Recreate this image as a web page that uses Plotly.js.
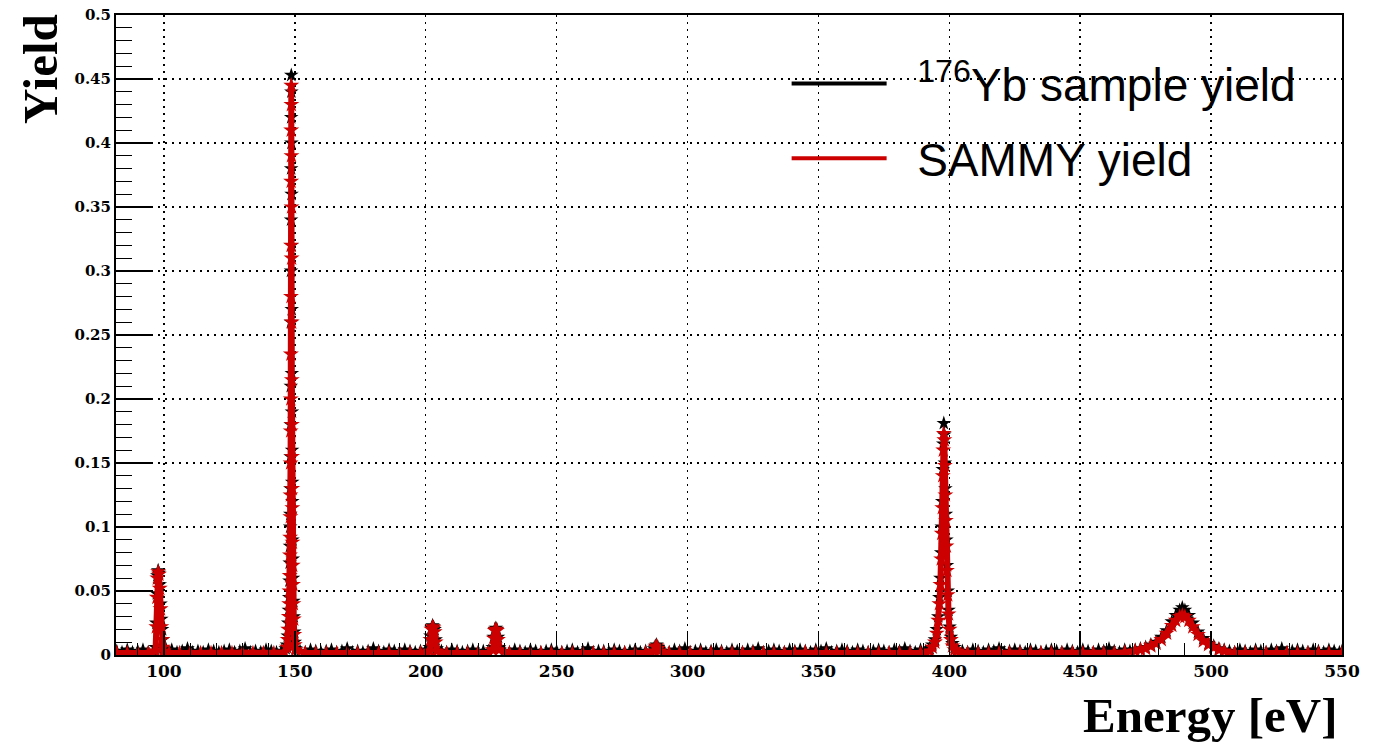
<!DOCTYPE html>
<html>
<head>
<meta charset="utf-8">
<script src="https://cdn.plot.ly/plotly-3.0.1.min.js"></script>
<style>html,body{margin:0;padding:0;background:#fff;}#chart{width:1375px;height:742px;}</style>
</head>
<body>
<div id="chart"></div>
<script>
// 176Yb sample yield (measured), energy in eV
const sampleEnergy = [
82,84,86,88,90,92,94,96,
96.8,97.1,97.3,97.5,97.8,98.1,98.4,98.7,99.0,99.3,99.6,99.9,
101,103,105,107,109,111,113,115,117,119,121,123,125,127,129,131,133,135,137,139,141,143,145,146.5,
147.0,147.3,147.5,147.7,147.85,147.95,148.05,148.15,148.22,148.28,148.33,148.38,148.42,148.46,148.5,148.54,148.57,148.6,148.63,148.66,
148.69,148.72,148.75,148.78,148.82,148.86,148.9,148.95,149.0,149.05,149.1,149.2,149.3,149.45,149.6,149.8,150.0,150.3,
152,154,156,158,160,162,164,166,168,170,172,174,176,178,180,182,184,186,188,190,192,194,196,198,200,
201.5,201.8,202.2,202.6,203.0,203.4,203.8,204.2,
206,208,210,212,214,216,218,220,222,224,
225.6,226.0,226.4,226.8,227.2,227.6,228.0,
230,232,234,236,238,240,242,244,246,248,250,252,254,256,258,260,262,264,266,268,270,272,274,276,278,280,282,284,286,
287.2,287.7,288.2,288.7,289.2,
291,293,295,297,299,301,303,305,307,309,311,313,315,317,319,321,323,325,327,329,331,333,335,337,339,341,343,345,347,349,351,353,355,357,359,361,363,365,367,369,371,373,375,377,379,381,383,385,387,389,391,
392.5,393.5,394.5,395.2,395.8,396.2,396.6,396.9,397.1,397.3,397.5,397.7,397.9,398.1,398.3,398.5,398.7,398.9,399.1,399.4,399.7,400.1,400.6,401.2,402,403,
405,407,409,411,413,415,417,419,421,423,425,427,429,431,433,435,437,439,441,443,445,447,449,451,453,455,457,459,461,463,465,467,469,
471,473,475,477,479,481,483,485,486.5,488,489,490,491.5,493,495,497,499,501,503,505,
507,509,511,513,515,517,519,521,523,525,527,529,531,533,535,537,539,541,543,545,547,549,550
];
const sampleYield = [
0.003,0.002,0.004,0.002,0.003,0.004,0.002,0.003,
0.006,0.025,0.048,0.062,0.066,0.064,0.055,0.040,0.028,0.020,0.012,0.005,
0.003,0.004,0.002,0.003,0.005,0.002,0.003,0.002,0.004,0.003,0.002,0.003,0.004,0.002,0.003,0.005,0.002,0.003,0.002,0.004,0.003,0.002,0.003,0.005,
0.008,0.015,0.025,0.035,0.045,0.058,0.072,0.085,0.100,0.110,0.130,0.155,0.180,0.210,0.260,0.300,0.340,0.380,0.420,0.453,
0.440,0.400,0.360,0.320,0.270,0.220,0.190,0.160,0.135,0.120,0.090,0.075,0.060,0.042,0.030,0.018,0.010,0.005,
0.003,0.002,0.004,0.003,0.002,0.003,0.004,0.002,0.003,0.005,0.002,0.003,0.002,0.003,0.005,0.003,0.002,0.004,0.003,0.002,0.004,0.003,0.002,0.003,0.004,
0.006,0.015,0.021,0.023,0.022,0.020,0.012,0.005,
0.003,0.002,0.004,0.003,0.002,0.003,0.004,0.002,0.003,0.003,
0.006,0.014,0.020,0.021,0.020,0.014,0.006,
0.003,0.002,0.004,0.003,0.002,0.004,0.003,0.002,0.003,0.004,0.003,0.002,0.003,0.004,0.002,0.003,0.005,0.002,0.003,0.003,0.002,0.004,0.003,0.002,0.003,0.004,0.002,0.003,0.003,
0.005,0.007,0.008,0.006,0.004,
0.003,0.002,0.004,0.003,0.005,0.002,0.003,0.004,0.002,0.003,0.004,0.003,0.002,0.004,0.003,0.002,0.004,0.003,0.005,0.002,0.003,0.004,0.003,0.002,0.004,0.003,0.004,0.003,0.002,0.004,0.003,0.005,0.002,0.003,0.004,0.003,0.002,0.004,0.003,0.002,0.003,0.004,0.003,0.002,0.004,0.003,0.005,0.003,0.002,0.004,0.003,
0.005,0.008,0.012,0.020,0.030,0.045,0.060,0.080,0.100,0.120,0.145,0.165,0.181,0.172,0.150,0.130,0.110,0.090,0.070,0.050,0.035,0.022,0.014,0.009,0.006,0.004,
0.003,0.002,0.004,0.003,0.002,0.004,0.003,0.005,0.002,0.003,0.004,0.003,0.002,0.004,0.003,0.002,0.003,0.004,0.003,0.002,0.004,0.003,0.002,0.004,0.003,0.002,0.004,0.003,0.005,0.003,0.002,0.004,0.003,
0.004,0.005,0.006,0.008,0.010,0.014,0.019,0.026,0.031,0.035,0.037,0.035,0.031,0.025,0.018,0.013,0.009,0.007,0.005,0.004,
0.003,0.002,0.004,0.003,0.002,0.004,0.003,0.002,0.004,0.003,0.005,0.002,0.003,0.004,0.003,0.002,0.004,0.003,0.002,0.004,0.003,0.002,0.003
];

// SAMMY fitted yield
const sammyEnergy = [
82,86,90,94,
96.8,97.1,97.3,97.5,97.8,98.1,98.4,98.7,99.0,99.3,99.6,99.9,
102,106,110,114,118,122,126,130,134,138,142,146,
147.0,147.3,147.5,147.7,147.85,147.95,148.05,148.15,148.22,148.28,148.33,148.38,148.42,148.46,148.5,148.54,148.57,148.6,148.63,148.66,
148.69,148.72,148.75,148.78,148.82,148.86,148.9,148.95,149.0,149.05,149.1,149.2,149.3,149.45,149.6,149.8,150.0,150.3,
154,158,162,166,170,174,178,182,186,190,194,198,
201.5,201.8,202.2,202.6,203.0,203.4,203.8,204.2,
208,212,216,220,224,
225.6,226.0,226.4,226.8,227.2,227.6,228.0,
232,236,240,244,248,252,256,260,264,268,272,276,280,284,
287.2,287.7,288.2,288.7,289.2,
293,297,301,305,309,313,317,321,325,329,333,337,341,345,349,353,357,361,365,369,373,377,381,385,389,
392.5,393.5,394.5,395.2,395.8,396.2,396.6,396.9,397.1,397.3,397.5,397.7,397.9,398.1,398.3,398.5,398.7,398.9,399.1,399.4,399.7,400.1,400.6,401.2,402,403,
407,411,415,419,423,427,431,435,439,443,447,451,455,459,463,467,
471,473,475,477,479,481,483,485,486.5,488,489,490,491.5,493,495,497,499,501,503,505,
509,513,517,521,525,529,533,537,541,545,550
];
const sammyYield = [
0.0015,0.0015,0.0015,0.0015,
0.003,0.022,0.045,0.060,0.065,0.063,0.052,0.036,0.022,0.012,0.006,0.003,
0.0015,0.0015,0.0015,0.0015,0.0015,0.0015,0.0015,0.0015,0.0015,0.0015,0.0015,0.002,
0.006,0.012,0.020,0.030,0.040,0.050,0.062,0.078,0.092,0.108,0.125,0.150,0.175,0.200,0.235,0.280,0.320,0.370,0.410,0.445,
0.430,0.390,0.350,0.310,0.260,0.215,0.180,0.155,0.130,0.115,0.088,0.070,0.055,0.040,0.028,0.016,0.008,0.004,
0.0015,0.0015,0.0015,0.0015,0.0015,0.0015,0.0015,0.0015,0.0015,0.0015,0.0015,0.0015,
0.003,0.012,0.020,0.022,0.021,0.018,0.010,0.003,
0.0015,0.0015,0.0015,0.0015,0.0015,
0.004,0.013,0.019,0.020,0.019,0.012,0.004,
0.0015,0.0015,0.0015,0.0015,0.0015,0.0015,0.0015,0.0015,0.0015,0.0015,0.0015,0.0015,0.0015,0.0015,
0.003,0.006,0.007,0.005,0.003,
0.0015,0.0015,0.0015,0.0015,0.0015,0.0015,0.0015,0.0015,0.0015,0.0015,0.0015,0.0015,0.0015,0.002,0.0015,0.0015,0.0015,0.0015,0.0015,0.0015,0.0015,0.0015,0.0015,0.0015,0.0015,
0.003,0.006,0.010,0.017,0.027,0.040,0.055,0.075,0.095,0.115,0.140,0.160,0.173,0.168,0.148,0.125,0.105,0.085,0.066,0.047,0.032,0.020,0.012,0.007,0.004,0.003,
0.0015,0.0015,0.0015,0.0015,0.0015,0.0015,0.0015,0.0015,0.0015,0.0015,0.0015,0.0015,0.0015,0.0015,0.0015,0.002,
0.003,0.004,0.005,0.007,0.009,0.012,0.017,0.023,0.027,0.030,0.031,0.030,0.027,0.022,0.016,0.011,0.008,0.006,0.004,0.003,
0.0015,0.0015,0.0015,0.0015,0.0015,0.0015,0.0015,0.0015,0.0015,0.0015,0.0015
];

const xTickVals = [100,150,200,250,300,350,400,450,500,550];
const yTickVals = [0,0.05,0.1,0.15,0.2,0.25,0.3,0.35,0.4,0.45,0.5];
const yTickText = ['0','0.05','0.1','0.15','0.2','0.25','0.3','0.35','0.4','0.45','0.5'];
const legendNames = ['\u00a0\u00a0<sup>176</sup>Yb sample yield', '\u00a0\u00a0SAMMY yield'];

const BLACK = '#000000';
const RED = '#cc0000';

const traces = [
  {x: sampleEnergy, y: sampleYield, type: 'scatter', mode: 'lines+markers',
   line: {color: BLACK, width: 2}, marker: {symbol: 'star', size: 11, color: BLACK},
   showlegend: false, hoverinfo: 'skip'},
  {x: sammyEnergy, y: sammyYield, type: 'scatter', mode: 'lines+markers',
   line: {color: RED, width: 6}, marker: {symbol: 'star', size: 12, color: RED},
   showlegend: false, hoverinfo: 'skip'},
  {x: [null], y: [null], type: 'scatter', mode: 'lines', name: legendNames[0],
   line: {color: BLACK, width: 4}, legendgroup: 'a'},
  {x: [null], y: [null], type: 'scatter', mode: 'lines', name: legendNames[1],
   line: {color: RED, width: 4}, legendgroup: 'b'}
];

const tickFontX = {family: 'DejaVu Serif', size: 17, color: '#000', weight: 'bold'};
const tickFontY = {family: 'DejaVu Serif', size: 15, color: '#000', weight: 'bold'};

const layout = {
  width: 1375, height: 742,
  margin: {l: 116, r: 33, t: 15, b: 87, pad: 0},
  paper_bgcolor: '#ffffff', plot_bgcolor: '#ffffff',
  showlegend: true,
  legend: {x: 0.547, xanchor: 'left', y: 0.95, yanchor: 'top',
           bgcolor: 'rgba(0,0,0,0)', borderwidth: 0, itemwidth: 95,
           tracegroupgap: 12,
           font: {family: 'Liberation Sans, Arial, sans-serif', size: 46, color: '#000'}},
  xaxis: {
    range: [81.7, 550], autorange: false,
    tickmode: 'array', tickvals: xTickVals, ticktext: xTickVals.map(String),
    ticks: 'inside', ticklen: 24, tickwidth: 1.5, tickcolor: '#000',
    minor: {dtick: 10, tick0: 0, ticks: 'inside', ticklen: 12, tickwidth: 1, tickcolor: '#000', showgrid: false},
    showgrid: true, gridcolor: '#000', griddash: '2px,5px', gridwidth: 1.5,
    showline: true, linecolor: '#000', linewidth: 2, mirror: true,
    zeroline: false, tickfont: tickFontX
  },
  yaxis: {
    range: [0, 0.5], autorange: false,
    tickmode: 'array', tickvals: yTickVals, ticktext: yTickText,
    ticks: 'inside', ticklen: 35, tickwidth: 1.5, tickcolor: '#000',
    minor: {dtick: 0.01, tick0: 0, ticks: 'inside', ticklen: 16, tickwidth: 1, tickcolor: '#000', showgrid: false},
    showgrid: true, gridcolor: '#000', griddash: '2px,5px', gridwidth: 1.5,
    showline: true, linecolor: '#000', linewidth: 2, mirror: true,
    zeroline: false, tickfont: tickFontY
  },
  annotations: [
    {text: '<b>Yield</b>', textangle: -90, xref: 'paper', yref: 'paper',
     x: -0.062, y: 1.0, xanchor: 'center', yanchor: 'top', yshift: 3, showarrow: false,
     font: {family: 'Liberation Serif, Times New Roman, serif', size: 49, color: '#000'}},
    {text: '<b>Energy [eV]</b>', xref: 'paper', yref: 'paper',
     x: 1.0, y: -0.0953, xanchor: 'right', yanchor: 'middle', xshift: -3, showarrow: false,
     font: {family: 'Liberation Serif, Times New Roman, serif', size: 49, color: '#000'}}
  ]
};

Plotly.newPlot('chart', traces, layout, {staticPlot: true, displayModeBar: false});
</script>
</body>
</html>
